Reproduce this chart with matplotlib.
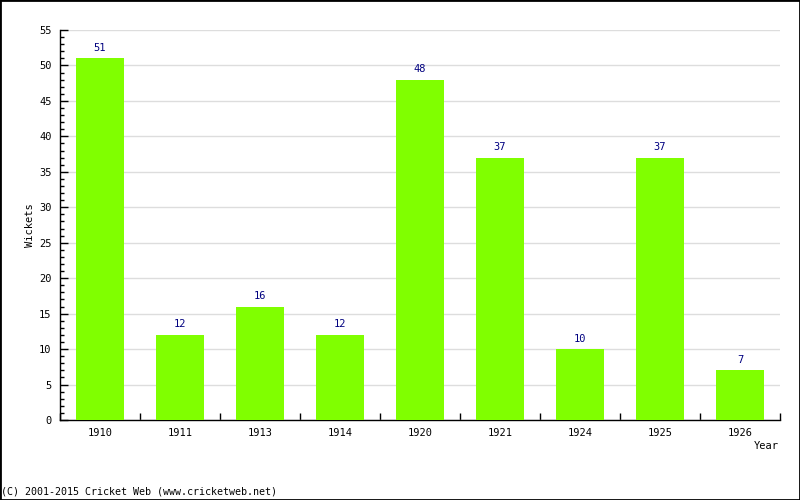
import matplotlib
matplotlib.use('Agg')
import matplotlib.pyplot as plt
from matplotlib.patches import Rectangle
from matplotlib.ticker import MultipleLocator, FixedLocator
import numpy as np

years = ['1910', '1911', '1913', '1914', '1920', '1921', '1924', '1925', '1926']
wickets = [51, 12, 16, 12, 48, 37, 10, 37, 7]

plt.rcParams['font.family'] = 'DejaVu Sans Mono'

fig = plt.figure(figsize=(8, 5), dpi=100)
ax = fig.add_axes([0.075, 0.16, 0.9, 0.78])

x = np.arange(len(years))
ax.bar(x, wickets, width=0.61, color='#80ff00', zorder=3)
for xi, w in zip(x, wickets):
    ax.annotate(str(w), (xi, w), xytext=(0, 4), textcoords='offset points',
                ha='center', va='bottom', fontsize=7.5, color='#000080')

ax.set_xlim(-0.5, len(years) - 0.5)
ax.set_ylim(0, 55)
ax.yaxis.set_major_locator(MultipleLocator(5))
ax.yaxis.set_minor_locator(MultipleLocator(1))
ax.set_xticks(x)
ax.set_xticklabels(years)
ax.xaxis.set_minor_locator(FixedLocator(np.arange(-0.5, len(years), 1.0)))
ax.tick_params(axis='x', which='major', length=0, pad=6, labelsize=7.5)
ax.tick_params(axis='x', which='minor', direction='in', length=5, width=1)
ax.tick_params(axis='y', which='major', direction='in', length=6, width=1, labelsize=7.5, pad=6)
ax.tick_params(axis='y', which='minor', direction='in', length=3, width=1)
ax.grid(axis='y', which='major', color='#dddddd', linewidth=1, zorder=0)

for s in ['top', 'right']:
    ax.spines[s].set_visible(False)
for s in ['left', 'bottom']:
    ax.spines[s].set_linewidth(1)

ax.set_ylabel('Wickets', fontsize=7.5, labelpad=3)
fig.text(0.974, 0.108, 'Year', ha='right', va='center', fontsize=7.5)
fig.text(0.001, 0.016, '(C) 2001-2015 Cricket Web (www.cricketweb.net)',
         ha='left', va='center', fontsize=7.2)

fig.patches.append(Rectangle((0, 0), 1, 1, transform=fig.transFigure,
                             fill=False, edgecolor='black', linewidth=2))

fig.savefig('out.png', dpi=100)
